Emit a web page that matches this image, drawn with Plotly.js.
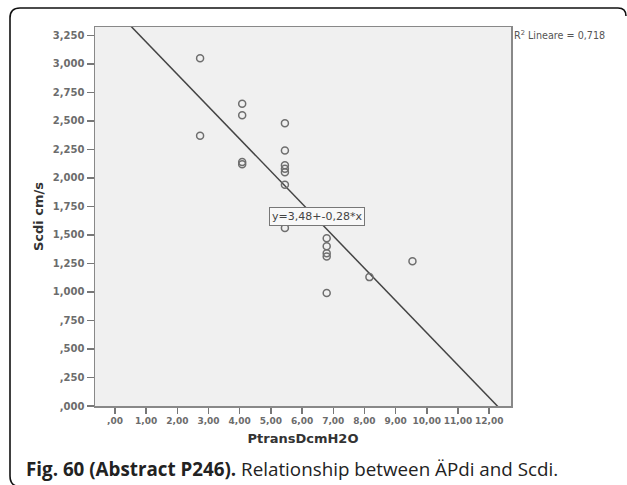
<!DOCTYPE html>
<html>
<head>
<meta charset="utf-8">
<script src="https://cdn.plot.ly/plotly-3.0.1.min.js"></script>
<style>
html,body{margin:0;padding:0;background:#fff;}
#chart{width:627px;height:485px;}
</style>
</head>
<body>
<div id="chart"></div>
<script>
// Data
const ptransDcmH2O = [2.73, 2.73, 4.08, 4.08, 4.08, 4.08, 5.45, 5.45, 5.45, 5.45, 5.45, 5.45, 5.45, 6.79, 6.79, 6.79, 6.79, 6.79, 8.16, 9.54];
const scdiCmS      = [3.05, 2.37, 2.65, 2.55, 2.14, 2.12, 2.48, 2.24, 2.11, 2.08, 2.05, 1.94, 1.56, 1.47, 1.40, 1.34, 1.31, 0.99, 1.13, 1.27];

// Linear fit as drawn in the reference
const fitIntercept = 3.475;
const fitSlope = -0.2834;
const fitLabel = "y=3,48+-0,28*x";
const r2Label = "R<sup>2</sup> Lineare = 0,718";

const xTickVals = [0,1,2,3,4,5,6,7,8,9,10,11,12];
const xTickText = [",00","1,00","2,00","3,00","4,00","5,00","6,00","7,00","8,00","9,00","10,00","11,00","12,00"];
const yTickVals = [0,0.25,0.5,0.75,1,1.25,1.5,1.75,2,2.25,2.5,2.75,3,3.25];
const yTickText = [",000",",250",",500",",750","1,000","1,250","1,500","1,750","2,000","2,250","2,500","2,750","3,000","3,250"];

const xRange = [-0.64, 12.70];
const yRange = [0, 3.323];

const fitX = [xRange[0], xRange[1]];
const fitY = fitX.map(v => fitIntercept + fitSlope * v);

// layout helpers (pixel -> paper)
const L = 95, R = 116, T = 27, B = 79, W = 627, H = 485;
const pw = W - L - R, ph = H - T - B;
const px = p => (p - L) / pw;
const py = p => (H - B - p) / ph;

const data = [
  {
    x: fitX, y: fitY, type: "scatter", mode: "lines",
    line: {color: "#444444", width: 1.5}, hoverinfo: "skip", showlegend: false
  },
  {
    x: ptransDcmH2O, y: scdiCmS, type: "scatter", mode: "markers",
    marker: {symbol: "circle-open", size: 7, color: "#6e6e6e", line: {width: 1.5, color: "#6e6e6e"}},
    showlegend: false
  }
];

const framePath = "M " + px(626) + "," + py(16) +
  " Q " + px(626) + "," + py(8) + " " + px(618) + "," + py(8) +
  " L " + px(20) + "," + py(8) +
  " Q " + px(10) + "," + py(8) + " " + px(10) + "," + py(18) +
  " L " + px(10) + "," + py(476) +
  " Q " + px(10) + "," + py(484) + " " + px(16) + "," + py(486);

const layout = {
  width: W, height: H,
  margin: {l: L, r: R, t: T, b: B, pad: 0},
  paper_bgcolor: "#ffffff",
  plot_bgcolor: "#f0f0f0",
  showlegend: false,
  xaxis: {
    range: xRange, tickvals: xTickVals, ticktext: xTickText, tickangle: 0,
    ticks: "outside", ticklen: 6, tickwidth: 1.5, tickcolor: "#777",
    showgrid: false, zeroline: false,
    showline: true, mirror: true, linecolor: "#888", linewidth: 1.5,
    tickfont: {family: "DejaVu Sans", size: 9, color: "#6c6c6c", weight: "bold"},
    title: {text: "PtransDcmH2O", standoff: 8, font: {family: "DejaVu Sans", size: 13, color: "#333", weight: "bold"}}
  },
  yaxis: {
    range: yRange, tickvals: yTickVals, ticktext: yTickText,
    ticks: "outside", ticklen: 7, tickwidth: 1.5, tickcolor: "#777",
    showgrid: false, zeroline: false,
    showline: true, mirror: true, linecolor: "#888", linewidth: 1.5,
    tickfont: {family: "DejaVu Sans", size: 10, color: "#6c6c6c", weight: "bold"},
    title: {text: "Scdi cm/s", standoff: 6, font: {family: "DejaVu Sans", size: 13, color: "#333", weight: "bold"}}
  },
  shapes: [
    {type: "path", xref: "paper", yref: "paper", path: framePath, line: {color: "#111", width: 1.6}}
  ],
  annotations: [
    {
      x: 6.48, y: 1.66, xref: "x", yref: "y", text: fitLabel, showarrow: false,
      font: {family: "DejaVu Sans", size: 11, color: "#444"},
      bgcolor: "#f8f8f8", bordercolor: "#777", borderwidth: 1, borderpad: 2
    },
    {
      x: px(512), y: py(27), xref: "paper", yref: "paper", xanchor: "left", yanchor: "top",
      text: r2Label, showarrow: false,
      font: {family: "DejaVu Sans", size: 9.6, color: "#555"}
    },
    {
      x: px(24), y: py(469), xref: "paper", yref: "paper", xanchor: "left", yanchor: "middle",
      text: "<b>Fig. 60 (Abstract P246).</b> Relationship between ÄPdi and Scdi.", showarrow: false,
      font: {family: "Open Sans", size: 18.8, color: "#222"}
    }
  ]
};

Plotly.newPlot("chart", data, layout, {staticPlot: true, displayModeBar: false});
</script>
</body>
</html>
